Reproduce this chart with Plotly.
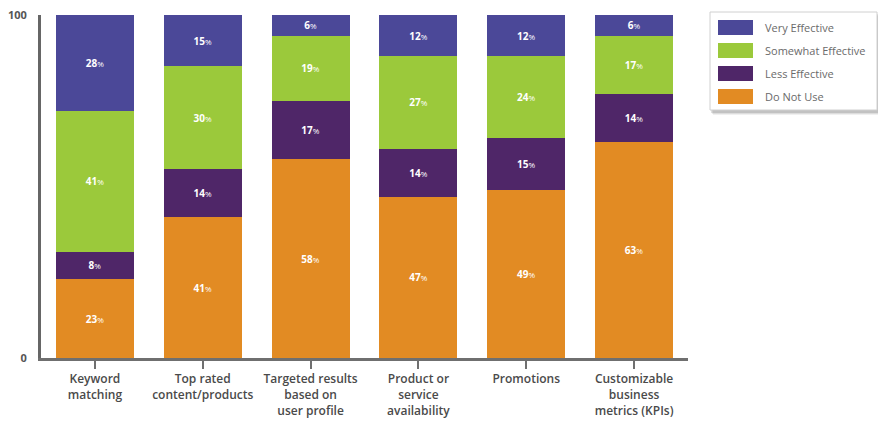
import plotly.graph_objects as go

categories = [
    "Keyword<br>matching",
    "Top rated<br>content/products",
    "Targeted results<br>based on<br>user profile",
    "Product or<br>service<br>availability",
    "Promotions",
    "Customizable<br>business<br>metrics (KPIs)",
]
do_not_use = [23, 41, 58, 47, 49, 63]
less_effective = [8, 14, 17, 14, 15, 14]
somewhat_effective = [41, 30, 19, 27, 24, 17]
very_effective = [28, 15, 6, 12, 12, 6]

series = [
    ("Do Not Use", do_not_use, "#E28B23"),
    ("Less Effective", less_effective, "#4F2668"),
    ("Somewhat Effective", somewhat_effective, "#9BC93B"),
    ("Very Effective", very_effective, "#4B4898"),
]

FONT = "Open Sans"

fig = go.Figure()
for name, vals, color in series:
    fig.add_trace(go.Bar(
        x=categories,
        y=vals,
        name=name,
        marker=dict(color=color, line=dict(width=0)),
        text=[f"<b>{v}</b><span style='font-size:8px'>%</span>" for v in vals],
        texttemplate="%{text}",
        textposition="inside",
        insidetextanchor="middle",
        textangle=0,
        textfont=dict(color="white", size=10, family=FONT),
        hoverinfo="skip",
        showlegend=False,
    ))

fig.update_layout(
    barmode="stack",
    bargap=0.278,
    width=878,
    height=422,
    margin=dict(l=41, r=190, t=15, b=64),
    paper_bgcolor="white",
    plot_bgcolor="white",
    uniformtext=dict(minsize=6, mode="show"),
    xaxis=dict(
        automargin=False,
        showline=True, linecolor="#6f6f6f", linewidth=3,
        ticks="outside", ticklen=8, tickwidth=2, tickcolor="#6f6f6f",
        tickfont=dict(family=FONT, size=12, color="#4a4a4a", weight=600),
        showgrid=False, fixedrange=True,
    ),
    yaxis=dict(
        automargin=False,
        range=[0, 100], tickvals=[0, 100], ticktext=["<b>0</b>", "<b>100</b>"],
        showline=True, linecolor="#666666", linewidth=3,
        ticks="outside", ticklen=9, tickcolor="rgba(0,0,0,0)",
        tickfont=dict(family=FONT, size=11, color="#555555"),
        showgrid=True, gridcolor="#c8c8c8", gridwidth=1,
        zeroline=False, fixedrange=True,
    ),
)

# Legend box with a soft drop shadow, positioned in pixel terms
W, H = 878, 422
def px(x0, y0, x1, y1):
    return dict(xref="paper", yref="paper",
                x0=(x0 - 41) / (W - 41 - 190), x1=(x1 - 41) / (W - 41 - 190),
                y0=(H - 64 - y0) / (H - 15 - 64), y1=(H - 64 - y1) / (H - 15 - 64))

for i, alpha in enumerate([0.06, 0.08, 0.12]):
    off = 4 - i
    fig.add_shape(type="rect", **px(710 + off - 1, 12 + off, 878 + off, 111 + off),
                  fillcolor=f"rgba(0,0,0,{alpha})", line=dict(width=0), layer="above")
fig.add_shape(type="rect", **px(710, 12, 877, 110),
              fillcolor="white", line=dict(color="#d0d0d0", width=1), layer="above")

legend_rows = [("Very Effective", "#4B4898", 20),
               ("Somewhat Effective", "#9BC93B", 43),
               ("Less Effective", "#4F2668", 66),
               ("Do Not Use", "#E28B23", 89)]
for name, color, top in legend_rows:
    fig.add_shape(type="rect", **px(718, top, 753, top + 15),
                  fillcolor=color, line=dict(width=0), layer="above")
    d = px(763, top + 7.5, 763, top + 7.5)
    fig.add_annotation(xref="paper", yref="paper", x=d["x0"], y=d["y0"],
                       text=name, showarrow=False, xanchor="left", yanchor="middle",
                       font=dict(family=FONT, size=11, color="#6a6a6a"))

fig.write_html("out.html")
